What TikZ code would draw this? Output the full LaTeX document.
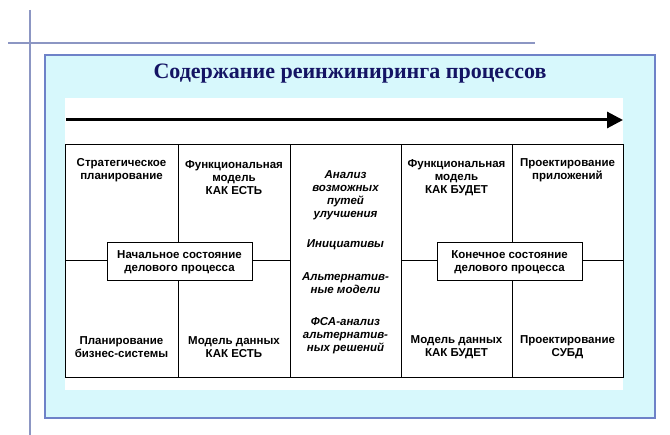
\documentclass[tikz,border=0pt]{standalone}
\usepackage{fontspec}
\setmainfont{Liberation Sans}
\newfontfamily\titlefont{Liberation Serif}
\usetikzlibrary{arrows.meta}
\definecolor{decol}{RGB}{140,150,195}
\definecolor{framecol}{RGB}{110,130,200}
\definecolor{bgcol}{RGB}{215,248,252}
\definecolor{titlecol}{RGB}{20,20,100}
\begin{document}
\begin{tikzpicture}[x=1pt,y=-1pt,
  cell/.style={align=center,font=\bfseries\fontsize{11.5}{13}\selectfont,inner sep=0pt},
  mid/.style={align=center,font=\bfseries\itshape\fontsize{11.5}{13}\selectfont,inner sep=0pt},
  state/.style={draw,line width=1pt,fill=white,align=center,font=\bfseries\fontsize{11.5}{13}\selectfont,minimum width=145pt,minimum height=38pt,inner sep=1pt}]
\useasboundingbox (0,0) rectangle (670,435);
\fill[white] (0,0) rectangle (670,435);
\draw[line width=1.5pt,decol] (30,10) -- (30,435);
\draw[line width=1.5pt,decol] (8,43) -- (535,43);
\draw[line width=1.5pt,fill=bgcol,draw=framecol] (45,55) rectangle (655,418);
\node[font=\titlefont\bfseries\fontsize{22}{26}\selectfont,text=titlecol] (title) at (350,74) {Содержание реинжиниринга процессов};
\fill[white] (65,98) rectangle (623,390);
\coordinate (as) at (66,120); \coordinate (ae) at (623,120);
\draw[line width=3pt,-{Triangle[length=16pt,width=16pt]}] (as) -- (ae);
\draw[line width=1pt] (65,145) rectangle (623,378);
\foreach \x in {178,290,401,512} \draw[line width=1pt] (\x,145) -- (\x,378);
\draw[line width=1pt] (65,261) -- (290,261);
\draw[line width=1pt] (401,261) -- (623,261);
\node[cell] (c1) at (121.5,170) {Стратегическое\\планирование};
\node[cell] (c2) at (234,178) {Функциональная\\модель\\КАК ЕСТЬ};
\node[cell] (c4) at (456.5,178) {Функциональная\\модель\\КАК БУДЕТ};
\node[cell] (c5) at (567.5,170) {Проектирование\\приложений};
\node[cell] (b1) at (121.5,347) {Планирование\\бизнес-системы};
\node[cell] (b2) at (234,347) {Модель данных\\КАК ЕСТЬ};
\node[cell] (b4) at (456.5,347) {Модель данных\\КАК БУДЕТ};
\node[cell] (b5) at (567.5,347) {Проектирование\\СУБД};
\node[mid] (m1) at (345.5,195) {Анализ\\возможных\\путей\\улучшения};
\node[mid] (m2) at (345.5,245) {Инициативы};
\node[mid] (m3) at (345.5,283) {Альтернатив-\\ные модели};
\node[mid] (m4) at (345.5,336) {ФСА-анализ\\альтернатив-\\ных решений};
\node[state] (s1) at (179.5,262) {Начальное состояние\\делового процесса};
\node[state] (s2) at (509.5,262) {Конечное состояние\\делового процесса};
\end{tikzpicture}
\end{document}
